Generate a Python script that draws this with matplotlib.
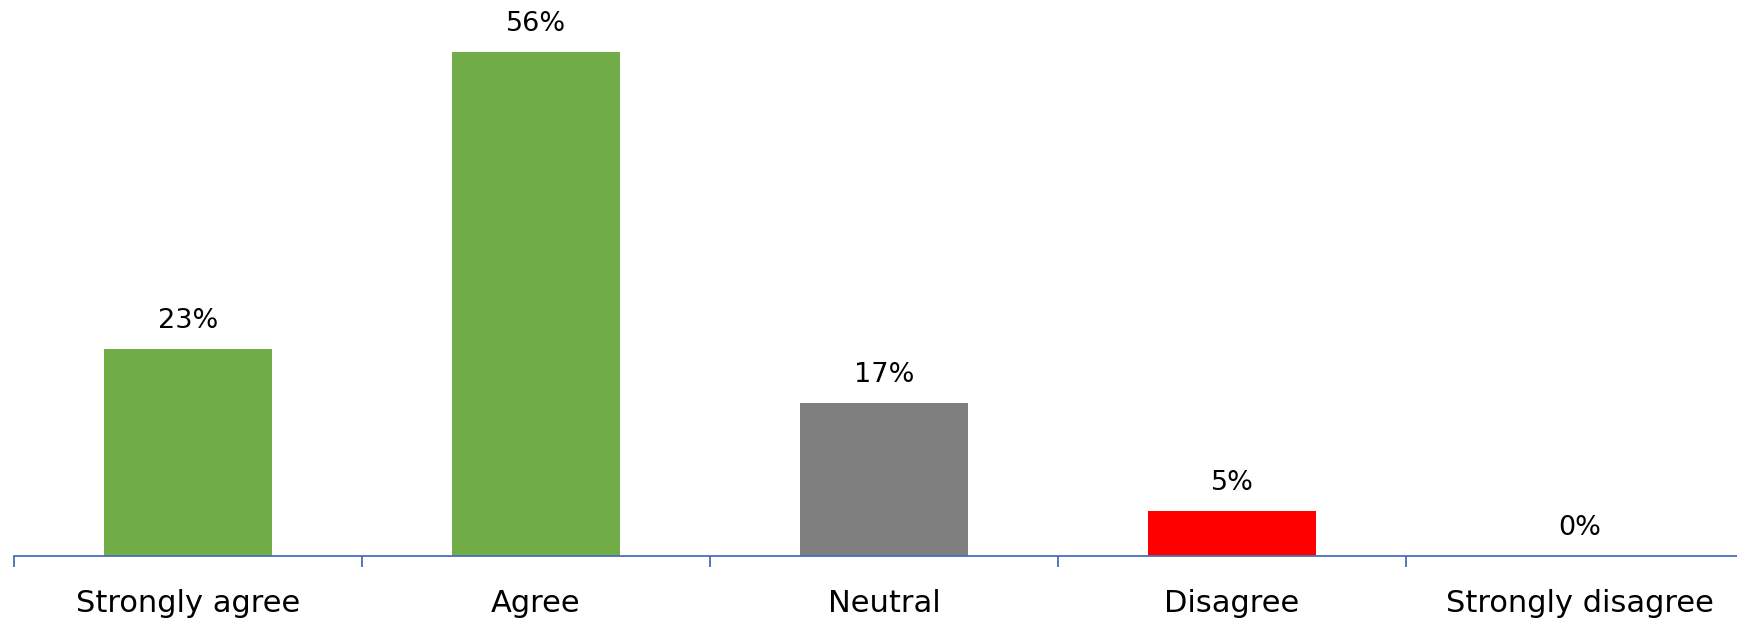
import matplotlib
matplotlib.use("Agg")
import matplotlib.pyplot as plt
import numpy as np

categories = ["Strongly agree", "Agree", "Neutral", "Disagree", "Strongly disagree"]
values = [0.23, 0.56, 0.17, 0.05, 0.00]
labels = ["23%", "56%", "17%", "5%", "0%"]
colors = ["#70AD47", "#70AD47", "#7F7F7F", "#FF0000", "#FF0000"]

W, H = 1737, 624
fig = plt.figure(figsize=(W / 100, H / 100), dpi=100)
ax = fig.add_axes([14 / W, 1 - 556 / H, 1740 / W, 556 / H])

x = np.arange(len(categories))
ax.bar(x, values, width=0.48, color=colors)
ax.set_xlim(-0.5, len(categories) - 0.5)
ax.set_ylim(0, 0.56 * 556 / 504)

for xi, v, lab in zip(x, values, labels):
    ax.annotate(lab, (xi, v), xytext=(0, 11), textcoords="offset points",
                ha="center", va="bottom", fontsize=19.5, color="#000000")

for s in ["top", "right", "left"]:
    ax.spines[s].set_visible(False)
ax.spines["bottom"].set_color("#4A6FB5")
ax.spines["bottom"].set_linewidth(1.3)
ax.set_yticks([])
ax.set_xticks(x)
ax.set_xticklabels(categories, fontsize=22)
ax.set_xticks(np.arange(-0.5, len(categories)), minor=True)
ax.tick_params(axis="x", which="major", length=0, pad=24)
ax.tick_params(axis="x", which="minor", length=8, width=1.3, color="#4A6FB5", direction="out")

fig.savefig("out.png", dpi=100)
